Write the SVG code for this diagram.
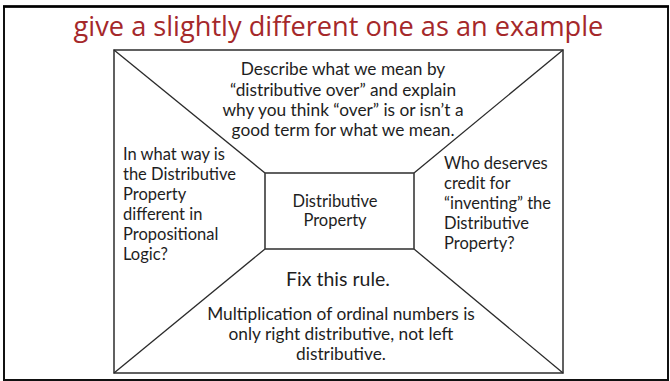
<svg xmlns="http://www.w3.org/2000/svg" width="670" height="381" viewBox="0 0 670 381">
<style>
.frame{fill:none;stroke:#111;stroke-width:2}
.box{fill:none;stroke:#3a3a3a;stroke-width:1.6}
.con{stroke:#2a2a2a;stroke-width:1.3;fill:none}
.t{font-family:Lato,"Noto Sans",sans-serif;font-size:16.5px;fill:#1e1e1e}
.big{font-size:17.3px}
.c{text-anchor:middle}
.title{font-family:"Open Sans","Noto Sans",sans-serif;font-size:27.2px;fill:#a5282a;text-anchor:middle}
</style>
<rect x="0" y="0" width="670" height="381" fill="#fff"/>
<rect class="frame" x="4" y="6.5" width="664" height="373.5"/>
<line x1="3" y1="6.5" x2="669" y2="6.5" stroke="#000" stroke-width="2.6"/>
<g id="title"><text class="title" x="338.5" y="36">give a slightly different one as an example</text></g>
<g id="outer"><rect class="box" x="114" y="50" width="449" height="323"/></g>
<g id="connectors">
<line class="con" x1="114" y1="50" x2="265" y2="173"/>
<line class="con" x1="563" y1="50" x2="414" y2="173"/>
<line class="con" x1="114" y1="373" x2="265" y2="249"/>
<line class="con" x1="563" y1="373" x2="414" y2="249"/>
</g>
<g id="center">
<rect class="box" x="265" y="173" width="149" height="76"/>
<text class="t c" x="335" y="206.5">Distributive</text>
<text class="t c" x="335" y="226">Property</text>
</g>
<g id="top">
<text class="t big c" x="343" y="75">Describe what we mean by</text>
<text class="t big c" x="343" y="95.5">“distributive over” and explain</text>
<text class="t big c" x="343" y="115.5">why you think “over” is or isn’t a</text>
<text class="t big c" x="343" y="135.5">good term for what we mean.</text>
</g>
<g id="left">
<text class="t" x="123" y="160">In what way is</text>
<text class="t" x="123" y="180">the Distributive</text>
<text class="t" x="123" y="200">Property</text>
<text class="t" x="123" y="220">different in</text>
<text class="t" x="123" y="240">Propositional</text>
<text class="t" x="123" y="259.5">Logic?</text>
</g>
<g id="right">
<text class="t" x="444" y="169">Who deserves</text>
<text class="t" x="444" y="189">credit for</text>
<text class="t" x="444" y="209">“inventing” the</text>
<text class="t" x="444" y="229">Distributive</text>
<text class="t" x="444" y="249">Property?</text>
</g>
<g id="bottom">
<text class="t c" x="338" y="286" style="font-size:19.5px">Fix this rule.</text>
<text class="t big c" x="341" y="320">Multiplication of ordinal numbers is</text>
<text class="t big c" x="341" y="340">only right distributive, not left</text>
<text class="t big c" x="341" y="360">distributive.</text>
</g>
</svg>
